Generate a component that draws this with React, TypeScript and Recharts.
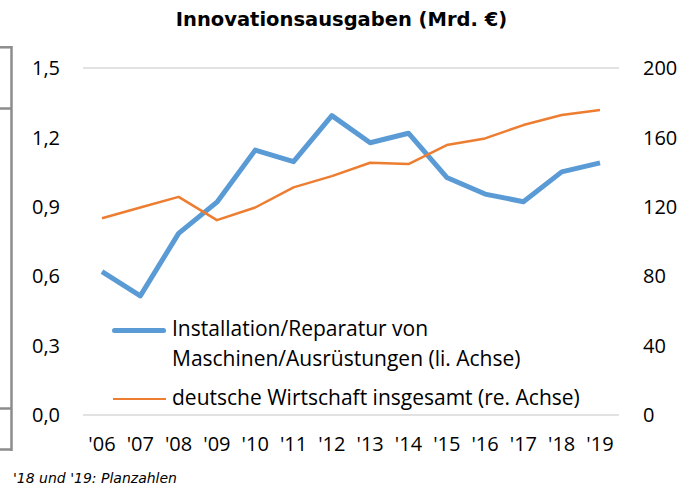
import React from "react";
import { LineChart, Line, XAxis, YAxis, CartesianGrid, Legend } from "recharts";

const years = ["'06", "'07", "'08", "'09", "'10", "'11", "'12", "'13", "'14", "'15", "'16", "'17", "'18", "'19"];
const maschinen = [0.62, 0.515, 0.785, 0.92, 1.145, 1.095, 1.294, 1.177, 1.218, 1.027, 0.955, 0.922, 1.051, 1.09];
const wirtschaft = [113.4, 119.6, 125.7, 112.3, 119.6, 131.2, 137.7, 145.4, 144.6, 155.6, 159.4, 167.1, 172.9, 175.8];
const leftTicks = [0, 0.3, 0.6, 0.9, 1.2, 1.5];
const rightTicks = [0, 40, 80, 120, 160, 200];

const title = "Innovationsausgaben (Mrd. €)";
const footnote = "'18 und '19: Planzahlen";
const legendBlue1 = "Installation/Reparatur von";
const legendBlue2 = "Maschinen/Ausrüstungen (li. Achse)";
const legendOrange = "deutsche Wirtschaft insgesamt (re. Achse)";

const data = years.map((y, i) => ({ year: y, m: maschinen[i], w: wirtschaft[i] }));

const BLUE = "#5b9bd5";
const ORANGE = "#ed7d31";
const FONT = "'Open Sans', Lato, sans-serif";
const tickStyle = { fontFamily: FONT, fontSize: 20, fill: "#000" };

const LegendContent = () => (
  <div style={{ position: "relative", width: 480, height: 100, fontFamily: FONT, fontSize: 21, color: "#000" }}>
    <div style={{ position: "absolute", left: 4, top: 17.5, width: 54, height: 5, background: BLUE, borderRadius: 3 }} />
    <div style={{ position: "absolute", left: 64, top: 5, lineHeight: "26px", whiteSpace: "nowrap" }}>{legendBlue1}</div>
    <div style={{ position: "absolute", left: 64, top: 35, lineHeight: "26px", whiteSpace: "nowrap" }}>{legendBlue2}</div>
    <div style={{ position: "absolute", left: 5, top: 87.5, width: 53, height: 2.5, background: ORANGE }} />
    <div style={{ position: "absolute", left: 64, top: 74, lineHeight: "26px", whiteSpace: "nowrap" }}>{legendOrange}</div>
  </div>
);

export default function App() {
  return (
    <div style={{ position: "absolute", left: 0, top: 0, width: 700, height: 490, background: "#fff" }}>
      <div
        style={{
          position: "absolute",
          left: 0,
          width: 683,
          top: 8,
          textAlign: "center",
          fontFamily: "'DejaVu Sans', Verdana, sans-serif",
          fontWeight: "bold",
          fontSize: 19.5,
          lineHeight: "24px",
          color: "#000",
        }}
      >
        {title}
      </div>
      <svg style={{ position: "absolute", left: 0, top: 0 }} width={20} height={490}>
        <g stroke="#8c8c8c" strokeWidth={2.5} fill="none">
          <line x1={11.5} y1={46} x2={11.5} y2={451} />
          <line x1={0} y1={47.3} x2={11.5} y2={47.3} />
          <line x1={0} y1={108.5} x2={11.5} y2={108.5} />
          <line x1={0} y1={408.5} x2={11.5} y2={408.5} />
          <line x1={0} y1={449.5} x2={11.5} y2={449.5} />
        </g>
      </svg>
      <div style={{ position: "absolute", left: 0, top: 0 }}>
        <LineChart width={700} height={490} data={data} margin={{ top: 68, right: 20, bottom: 20, left: 20 }}>
          <CartesianGrid vertical={false} stroke="#d9d9d9" strokeWidth={1.5} />
          <XAxis
            dataKey="year"
            axisLine={false}
            tickLine={false}
            tickSize={0}
            tickMargin={22}
            height={55}
            interval={0}
            padding={{ left: 19, right: 19 }}
            tick={tickStyle}
          />
          <YAxis
            yAxisId="left"
            domain={[0, 1.5]}
            ticks={leftTicks}
            axisLine={false}
            tickLine={false}
            tickSize={0}
            tickMargin={23}
            width={63}
            tick={tickStyle}
            tickFormatter={(v: number) => v.toFixed(1).replace(".", ",")}
          />
          <YAxis
            yAxisId="right"
            orientation="right"
            domain={[0, 200]}
            ticks={rightTicks}
            axisLine={false}
            tickLine={false}
            tickSize={0}
            tickMargin={24}
            width={61}
            tick={{ ...tickStyle, textAnchor: "start" }}
          />
          <Legend
            layout="horizontal"
            verticalAlign="middle"
            wrapperStyle={{ left: 108, top: 310, width: 480, height: 100 }}
            content={() => <LegendContent />}
          />
          <Line
            yAxisId="left"
            dataKey="m"
            stroke={BLUE}
            strokeWidth={5}
            dot={false}
            isAnimationActive={false}
            strokeLinejoin="round"
          />
          <Line
            yAxisId="right"
            dataKey="w"
            stroke={ORANGE}
            strokeWidth={2.5}
            dot={false}
            isAnimationActive={false}
            strokeLinejoin="round"
          />
        </LineChart>
      </div>
      <div
        style={{
          position: "absolute",
          left: 13,
          top: 469,
          fontFamily: "'DejaVu Sans', Verdana, sans-serif",
          fontStyle: "italic",
          fontSize: 14,
          lineHeight: "18px",
          color: "#000",
          whiteSpace: "nowrap",
        }}
      >
        {footnote}
      </div>
    </div>
  );
}
